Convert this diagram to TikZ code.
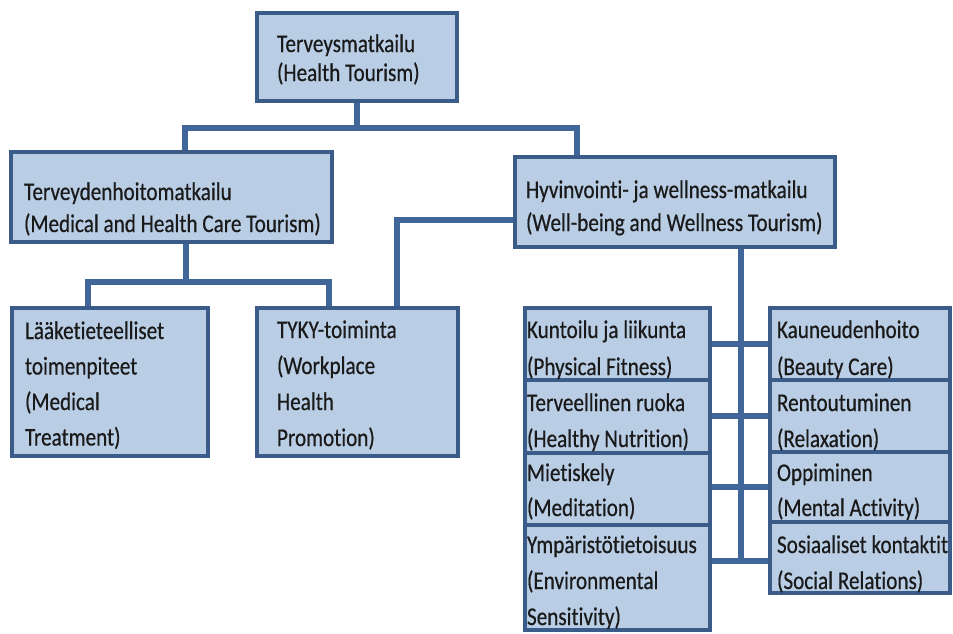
\documentclass[tikz,border=0pt]{standalone}
\usepackage{fontspec}
\setmainfont[FakeStretch=0.83,FakeBold=0.5,Ligatures=NoCommon]{Carlito}
\usetikzlibrary{backgrounds}
\definecolor{boxfill}{HTML}{B9CDE5}
\definecolor{boxline}{HTML}{3B5C89}
\definecolor{linkcol}{HTML}{41669A}
\definecolor{txtcol}{HTML}{1A1A1A}

% rectangle given by its corners (x1,y1) and (x2,y2), y measured downwards
\newcommand\orgbox[5]{\node[box, minimum width={#4-#2}, minimum height={#5-#3}] (#1) at (#2,#3) {};}
% left-aligned stacked lines whose first baseline is the node baseline
\newcommand\txtlines[1]{\begin{tabular}[t]{@{}l@{}}#1\end{tabular}}

\begin{document}
\begin{tikzpicture}[x=1pt,y=-1pt,
  box/.style={draw=boxline, fill=boxfill, line width=4pt, inner sep=0pt, outer sep=0pt, anchor=north west},
  lbl/.style={anchor=base west, inner sep=0pt, outer sep=0pt, text=txtcol, font=\fontsize{25.5}{36}\selectfont},
  conn/.style={draw=linkcol, line width=6pt}]

\useasboundingbox (0,0) rectangle (953,633);

% boxes
\orgbox{top}{257}{13}{457}{101}
\orgbox{med}{11}{152}{332}{242}
\orgbox{well}{515}{157}{835}{247}
\orgbox{laake}{12}{308}{208}{456}
\orgbox{tyky}{257}{308}{458}{456}
\orgbox{l1}{525}{308}{710}{380}
\orgbox{l2}{525}{380}{710}{453}
\orgbox{l3}{525}{453}{710}{525}
\orgbox{l4}{525}{525}{710}{630}
\orgbox{r1}{770}{308}{950}{380}
\orgbox{r2}{770}{380}{950}{452}
\orgbox{r3}{770}{452}{950}{522}
\orgbox{r4}{770}{522}{950}{593}

% labels
\node[lbl, font=\fontsize{25.5}{29}\selectfont] (topT) at (277,52) {\txtlines{Terveysmatkailu\\(Health Tourism)}};
\node[lbl, font=\fontsize{25.5}{32}\selectfont] (medT) at (24,200) {\txtlines{Terveydenhoitomatkailu\\(Medical and Health Care Tourism)}};
\node[lbl, font=\fontsize{25.5}{33}\selectfont] (wellT) at (526,198) {\txtlines{Hyvinvointi- ja wellness-matkailu\\(Well-being and Wellness Tourism)}};
\node[lbl, font=\fontsize{25.5}{35.5}\selectfont] (laakeT) at (25,339) {\txtlines{Lääketieteelliset\\toimenpiteet\\(Medical\\Treatment)}};
\node[lbl] (tykyT) at (277,338) {\txtlines{TYKY-toiminta\\(Workplace\\Health\\Promotion)}};
\node[lbl, font=\fontsize{25.5}{37}\selectfont] (l1T) at (527,338) {\txtlines{Kuntoilu ja liikunta\\(Physical Fitness)}};
\node[lbl] (l2T) at (527,411) {\txtlines{Terveellinen ruoka\\(Healthy Nutrition)}};
\node[lbl, font=\fontsize{25.5}{35}\selectfont] (l3T) at (527,481) {\txtlines{Mietiskely\\(Meditation)}};
\node[lbl] (l4T) at (527,553) {\txtlines{Ympäristötietoisuus\\(Environmental\\Sensitivity)}};
\node[lbl, font=\fontsize{25.5}{37}\selectfont] (r1T) at (777,338) {\txtlines{Kauneudenhoito\\(Beauty Care)}};
\node[lbl] (r2T) at (777,411) {\txtlines{Rentoutuminen\\(Relaxation)}};
\node[lbl, font=\fontsize{25.5}{35}\selectfont] (r3T) at (777,481) {\txtlines{Oppiminen\\(Mental Activity)}};
\node[lbl] (r4T) at (777,553) {\txtlines{Sosiaaliset kontaktit\\(Social Relations)}};

% junction points of the connectors
\coordinate (busL) at (185,128);
\coordinate (busR) at (577,128);
\coordinate (medC) at (186,282);
\coordinate (medL) at (88,282);
\coordinate (medR) at (329,282);
\coordinate (wt) at (397,220);
\coordinate (trunk) at (741,561);

\begin{scope}[on background layer]
  \fill[white] (0,0) rectangle (953,633);
  \draw[conn] (top.south) -- (top.south |- busL);
  \draw[conn] (busL |- med.north) -- (busL) -- (busR) -- (busR |- well.north);
  \draw[conn] (medC |- med.south) -- (medC);
  \draw[conn] (medL |- laake.north) -- (medL) -- (medR) -- (medR |- tyky.north);
  \draw[conn] (wt -| well.west) -- (wt) -- (wt |- tyky.north);
  \draw[conn] (trunk |- well.south) -- (trunk);
  \draw[conn] (l1.east |- r1.west) -- (r1.west);
  \draw[conn] (l2.east |- r2.west) -- (r2.west);
  \draw[conn] (l3.east |- r3.west) -- (r3.west);
  \draw[conn] (l4.east |- trunk) -- (trunk -| r4.west);
\end{scope}
\end{tikzpicture}
\end{document}
